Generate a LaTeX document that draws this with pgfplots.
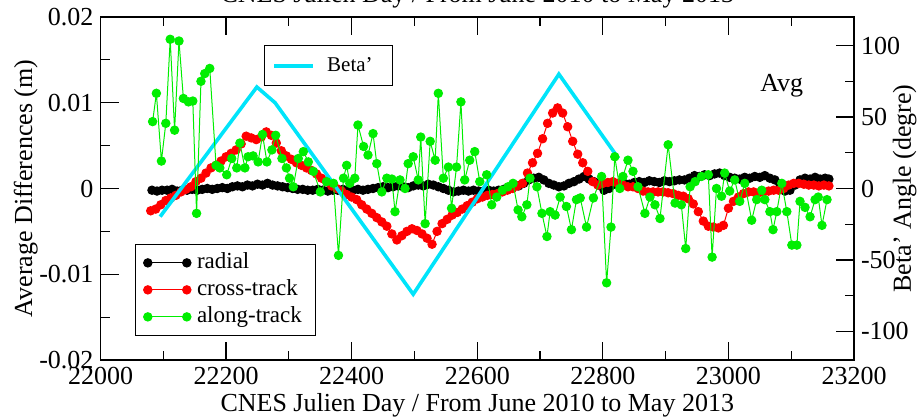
\documentclass[border=0pt]{standalone}
\usepackage{fontspec}
\setmainfont{Liberation Serif}
\usepackage{pgfplots}
\pgfplotsset{compat=1.18}
\definecolor{cyanb}{RGB}{0,228,250}
\definecolor{grn}{RGB}{0,238,0}
\definecolor{rd}{RGB}{255,0,0}
\pgfplotsset{
  base/.style={
    scale only axis, width=376.75pt, height=171.5pt,
    xmin=22000, xmax=23200,
    scaled x ticks=false, scaled y ticks=false,
    major tick length=9pt, minor tick length=4.5pt,
    tick align=inside,
    tick style={black, line width=0.6pt},
    axis line style={line width=0.6pt},
    ticklabel style={font=\fontsize{13}{15}\selectfont},
    label style={font=\fontsize{13}{15}\selectfont},
    /pgf/number format/1000 sep={},
    /pgf/number format/assume math mode=true,
  },
}
\begin{document}
\begin{tikzpicture}
\begin{axis}[base,
  ymin=-0.02, ymax=0.02,
  xtick={22000,22200,...,23200}, minor x tick num=1,
  ytick={-0.02,-0.01,0,0.01,0.02},
  yticklabels={-0.02,-0.01,0,0.01,0.02},
  minor y tick num=1,
  xtick pos=both, xticklabel pos=bottom,
  ytick pos=left, yticklabel pos=left,
  xlabel={CNES Julien Day / From June 2010 to May 2013},
  xlabel style={at={(axis description cs:0.5,0)}, anchor=base, yshift=-26pt},
  ylabel={Average Differences (m)},
  ylabel style={at={(axis description cs:-0.0909,0.5)}, rotate=0, anchor=base},
  title={CNES Julien Day / From June 2010 to May 2013},
  title style={at={(axis description cs:0.5,1.007)}, anchor=base, inner sep=0pt, font=\fontsize{13}{15}\selectfont},
  legend style={at={(0.0458,0.07)}, anchor=south west, draw=black, line width=0.6pt,
    font=\fontsize{11.5}{13}\selectfont, inner xsep=4pt, inner ysep=2.5pt,
    nodes={inner ysep=1pt, inner xsep=3pt, text height=8.5pt, text depth=3pt}},
  legend cell align=left,
  legend image code/.code={\draw[#1] plot coordinates {(0pt,0pt) (19.5pt,0pt)};},
]
\coordinate (SW) at (rel axis cs:0,0);
\coordinate (NE) at (rel axis cs:1,1);
\addplot[black, line width=0.5pt, mark=*, mark size=2.1pt, mark options={solid,fill=black}] coordinates {
(22082,-0.0002) (22090,-0.0003) (22098,-0.0002) (22106,-0.0002) (22114,-0.0001) (22122,-0.0003)
(22130,-0.0002) (22138,-0.0002) (22146,-0.0001) (22154,-0.0002) (22162,-0.0001) (22170,0.0000)
(22178,-0.0001) (22186,0.0000) (22194,0.0001) (22202,0.0000) (22210,0.0002) (22218,0.0003)
(22226,0.0002) (22234,0.0004) (22242,0.0003) (22250,0.0005) (22258,0.0004) (22266,0.0006)
(22274,0.0004) (22282,0.0003) (22290,0.0002) (22298,0.0001) (22306,0.0000) (22314,-0.0001)
(22322,-0.0001) (22330,-0.0002) (22338,-0.0002) (22346,-0.0001) (22354,-0.0002) (22362,-0.0003)
(22370,-0.0002) (22378,-0.0002) (22386,-0.0001) (22394,-0.0002) (22402,-0.0002) (22410,-0.0001)
(22418,-0.0002) (22426,-0.0001) (22434,0.0000) (22442,0.0001) (22450,0.0002) (22458,0.0001)
(22466,0.0002) (22474,0.0003) (22482,0.0002) (22490,0.0001) (22498,0.0003) (22506,0.0004)
(22514,0.0003) (22522,0.0005) (22530,0.0004) (22538,0.0002) (22546,0.0000) (22554,-0.0002)
(22562,-0.0004) (22570,-0.0003) (22578,-0.0002) (22586,-0.0003) (22594,-0.0002) (22602,-0.0003)
(22610,-0.0003) (22618,-0.0002) (22626,-0.0003) (22634,-0.0002) (22642,-0.0001) (22650,0.0001)
(22658,0.0002) (22666,0.0003) (22674,0.0006) (22682,0.0010) (22690,0.0012) (22698,0.0013)
(22706,0.0010) (22714,0.0006) (22722,0.0004) (22730,0.0002) (22738,0.0003) (22746,0.0006)
(22754,0.0008) (22762,0.0011) (22770,0.0014) (22778,0.0011) (22786,0.0008) (22794,0.0004)
(22802,-0.0002) (22810,0.0000) (22818,0.0005) (22826,0.0006) (22834,0.0006) (22842,0.0005)
(22850,0.0007) (22858,0.0008) (22866,0.0007) (22874,0.0009) (22882,0.0008) (22890,0.0007)
(22898,0.0009) (22906,0.0008) (22914,0.0009) (22922,0.0010) (22930,0.0010) (22938,0.0012)
(22946,0.0015) (22954,0.0014) (22962,0.0016) (22970,0.0015) (22978,0.0017) (22986,0.0018)
(22994,0.0015) (23002,0.0013) (23010,0.0012) (23018,0.0011) (23026,0.0013) (23034,0.0012)
(23042,0.0014) (23050,0.0013) (23058,0.0015) (23066,0.0012) (23074,0.0010) (23082,0.0005)
(23090,-0.0003) (23098,-0.0002) (23106,0.0004) (23114,0.0010) (23122,0.0012) (23130,0.0011)
(23138,0.0013) (23146,0.0011) (23154,0.0012) (23160,0.0011)
};
\addlegendentry{radial}
\addplot[rd, line width=0.5pt, mark=*, mark size=2.1pt, mark options={solid,fill=rd}] coordinates {
(22080,-0.0026) (22088,-0.0024) (22096,-0.0019) (22104,-0.0014) (22112,-0.0011) (22120,-0.0008)
(22128,-0.0004) (22136,-0.0001) (22144,0.0002) (22152,0.0008) (22160,0.0012) (22168,0.0018)
(22176,0.0024) (22184,0.0027) (22192,0.0032) (22200,0.0037) (22208,0.0041) (22216,0.0045)
(22224,0.0052) (22232,0.0061) (22240,0.0059) (22248,0.0057) (22256,0.0060) (22264,0.0066)
(22272,0.0062) (22280,0.0053) (22288,0.0044) (22296,0.0038) (22304,0.0034) (22312,0.0030)
(22320,0.0027) (22328,0.0024) (22336,0.0021) (22344,0.0017) (22352,0.0012) (22360,0.0008)
(22368,0.0003) (22376,0.0000) (22384,-0.0003) (22392,-0.0007) (22400,-0.0010) (22408,-0.0013)
(22416,-0.0019) (22424,-0.0024) (22432,-0.0029) (22440,-0.0034) (22448,-0.0039) (22456,-0.0044)
(22464,-0.0053) (22472,-0.0060) (22480,-0.0055) (22488,-0.0050) (22496,-0.0047) (22504,-0.0049)
(22512,-0.0053) (22520,-0.0058) (22528,-0.0065) (22536,-0.0050) (22544,-0.0041) (22552,-0.0036)
(22560,-0.0031) (22568,-0.0028) (22576,-0.0024) (22584,-0.0020) (22592,-0.0016) (22600,-0.0012)
(22608,-0.0010) (22616,-0.0008) (22624,-0.0007) (22632,-0.0006) (22640,-0.0004) (22648,-0.0002)
(22656,0.0000) (22664,0.0003) (22672,0.0006) (22680,0.0018) (22688,0.0030) (22696,0.0041)
(22704,0.0058) (22712,0.0076) (22720,0.0088) (22728,0.0094) (22736,0.0088) (22744,0.0072)
(22752,0.0055) (22760,0.0040) (22768,0.0030) (22776,0.0020) (22784,0.0008) (22792,0.0004)
(22800,0.0006) (22808,0.0007) (22816,0.0008) (22824,0.0006) (22832,0.0004) (22840,0.0002)
(22848,0.0002) (22856,0.0000) (22864,-0.0003) (22872,-0.0004) (22880,-0.0004) (22888,-0.0004)
(22896,-0.0004) (22904,-0.0005) (22912,-0.0006) (22920,-0.0008) (22928,-0.0009) (22936,-0.0012)
(22944,-0.0018) (22952,-0.0027) (22960,-0.0038) (22968,-0.0044) (22976,-0.0045) (22984,-0.0046)
(22992,-0.0043) (23000,-0.0023) (23008,-0.0015) (23016,-0.0010) (23024,-0.0006) (23032,-0.0004)
(23040,-0.0004) (23048,-0.0005) (23056,-0.0004) (23064,-0.0003) (23072,-0.0002) (23080,-0.0002)
(23088,0.0000) (23096,0.0004) (23104,0.0006) (23112,0.0006) (23120,0.0005) (23128,0.0004)
(23136,0.0004) (23144,0.0003) (23152,0.0004) (23160,0.0003)
};
\addlegendentry{cross-track}
\addlegendimage{grn, line width=0.5pt, mark=*, mark size=2.1pt, mark options={solid,fill=grn}}
\addlegendentry{along-track}
\node[font=\fontsize{13}{15}\selectfont] at (rel axis cs:0.904,0.80) {Avg};
\end{axis}

\begin{axis}[base,
  hide x axis,
  ymin=-120, ymax=120,
  ytick={-100,-50,0,50,100},
  yticklabels={-100,-50,0,50,100},
  minor y tick num=1,
  ytick pos=right, yticklabel pos=right,
  ylabel={Beta' Angle (degre)},
  ylabel style={at={(axis description cs:1.0756,0.5)}, rotate=0, anchor=base},
  legend style={at={(0.217,0.918)}, anchor=north west, draw=black, line width=0.6pt,
    font=\fontsize{10.5}{12}\selectfont, inner xsep=4pt, inner ysep=3pt,
    nodes={inner ysep=2pt, inner xsep=6pt, text height=8pt, text depth=2pt}},
  legend image code/.code={\draw[#1] (0pt,0pt) -- (19.5pt,0pt);},
]
\addplot[cyanb, line width=1.8pt, no marks] coordinates {
(22095,-19.7) (22249,71) (22278,60) (22498,-74) (22730,80) (22825,21)
};
\addlegendentry{Beta'}
\end{axis}

\begin{axis}[base, hide axis, ymin=-0.02, ymax=0.02]
\addplot[grn, line width=0.5pt, mark=*, mark size=2.1pt, mark options={solid,fill=grn}] coordinates {
(22083,0.0078) (22089,0.0111) (22097,0.0032) (22104,0.0076) (22111,0.0174) (22118,0.0068)
(22125,0.0172) (22132,0.0105) (22140,0.0101) (22147,0.0102) (22153,-0.0029) (22160,0.0125)
(22166,0.0134) (22174,0.0140) (22184,0.0027) (22190,0.0024) (22201,0.0016) (22209,0.0035)
(22217,0.0024) (22222,0.0053) (22230,0.0024) (22235,0.0037) (22243,0.0038) (22251,0.0031)
(22258,0.0063) (22265,0.0031) (22273,0.0045) (22279,0.0062) (22289,0.0035) (22296,0.0024)
(22301,0.0012) (22307,0.0002) (22315,0.0035) (22323,0.0043) (22331,0.0031) (22339,0.0020)
(22350,-0.0004) (22360,0.0008) (22371,0.0006) (22379,-0.0078) (22387,0.0012) (22392,0.0027)
(22397,0.0006) (22405,0.0012) (22410,0.0074) (22419,0.0049) (22426,0.0039) (22434,0.0064)
(22440,0.0029) (22448,-0.0004) (22456,0.0012) (22464,0.0011) (22469,-0.0027) (22477,0.0010)
(22485,0.0000) (22490,0.0029) (22498,0.0037) (22506,0.0010) (22510,0.0060) (22517,-0.0041)
(22525,0.0055) (22533,0.0033) (22538,0.0111) (22546,0.0012) (22554,0.0025) (22559,-0.0023)
(22567,0.0025) (22574,0.0101) (22580,0.0010) (22588,0.0033) (22596,0.0043) (22604,0.0008)
(22615,0.0016) (22623,-0.0019) (22631,-0.0010) (22640,-0.0002) (22649,0.0002) (22657,0.0006)
(22665,-0.0025) (22671,-0.0033) (22679,-0.0019) (22684,0.0012) (22695,0.0002) (22703,-0.0029)
(22711,-0.0056) (22716,-0.0027) (22724,-0.0031) (22732,-0.0010) (22742,-0.0021) (22750,-0.0048)
(22758,-0.0013) (22764,-0.0011) (22774,-0.0045) (22785,-0.0011) (22798,0.0014) (22806,-0.0110)
(22813,-0.0045) (22819,0.0037) (22827,0.0000) (22832,0.0014) (22840,0.0033) (22848,0.0020)
(22856,0.0002) (22867,-0.0029) (22875,-0.0010) (22883,-0.0019) (22891,-0.0035) (22904,0.0051)
(22915,-0.0017) (22925,-0.0019) (22932,-0.0070) (22939,0.0002) (22947,0.0008) (22957,0.0014)
(22968,0.0016) (22974,-0.0080) (22981,0.0000) (22989,-0.0009) (22994,0.0018) (23002,-0.0003)
(23010,0.0010) (23018,-0.0015) (23026,0.0006) (23037,-0.0037) (23045,-0.0013) (23053,-0.0002)
(23058,-0.0013) (23066,-0.0027) (23071,-0.0048) (23077,-0.0027) (23085,0.0006) (23093,-0.0027)
(23101,-0.0066) (23109,-0.0066) (23114,-0.0015) (23122,-0.0022) (23130,-0.0033) (23138,-0.0013)
(23143,-0.0010) (23149,-0.0043) (23157,-0.0013)
};
\end{axis}
\pgfresetboundingbox
\useasboundingbox ([shift={(-50.25pt,-29.5pt)}]SW) rectangle ([shift={(34.5pt,8.5pt)}]NE);
\end{tikzpicture}
\end{document}
